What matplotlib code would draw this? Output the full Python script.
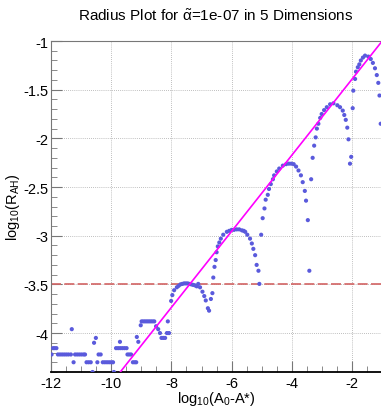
import matplotlib
matplotlib.use("Agg")
import matplotlib.pyplot as plt
from matplotlib.ticker import MultipleLocator

plt.rcParams["font.family"] = ["Liberation Sans", "DejaVu Sans"]
plt.rcParams["mathtext.fontset"] = "custom"
plt.rcParams["mathtext.rm"] = "Liberation Sans"
plt.rcParams["mathtext.it"] = "Liberation Sans"

# noisy plateau at small A0-A*
noise_x = [-11.98, -11.93, -11.88, -11.82, -11.77, -11.70, -11.63, -11.56, -11.49,
           -11.42, -11.34, -11.31, -11.25, -11.20, -11.13, -11.06, -10.99, -10.92,
           -10.87, -10.82, -10.75, -10.68, -10.62, -10.57, -10.51, -10.46, -10.42,
           -10.35, -10.28, -10.21, -10.14, -10.07, -10.00, -9.94, -9.91, -9.84,
           -9.77, -9.71, -9.70, -9.63, -9.56, -9.49, -9.46, -9.40, -9.34, -9.28,
           -9.22, -9.17, -9.15, -9.10, -9.02]
noise_y = [-4.22, -4.155, -4.155, -4.155, -4.22, -4.22, -4.22, -4.22, -4.22,
           -4.22, -4.22, -3.96, -4.30, -4.22, -4.22, -4.22, -4.22, -4.22,
           -4.22, -4.30, -4.30, -4.30, -4.40, -4.10, -4.05, -4.30, -4.22,
           -4.22, -4.30, -4.30, -4.30, -4.30, -4.30, -4.30, -4.40, -4.155,
           -4.155, -4.09, -4.155, -4.155, -4.155, -4.155, -4.22, -4.22, -4.22, -4.30,
           -4.30, -4.30, -4.04, -4.09, -3.92]

# small shelf and first arch
arch1_x = [-8.99, -8.93, -8.87, -8.81, -8.75, -8.69, -8.63, -8.57, -8.51, -8.44,
           -8.38, -8.33, -8.27, -8.21, -8.15, -8.12, -8.08, -8.01, -7.97, -7.91,
           -7.82, -7.76, -7.70, -7.64, -7.58, -7.52, -7.46, -7.40, -7.34, -7.28,
           -7.22, -7.16, -7.11, -7.05, -6.97, -6.91, -6.86, -6.79, -6.75]
arch1_y = [-3.88, -3.88, -3.88, -3.88, -3.88, -3.88, -3.88, -3.88, -3.93, -3.96,
           -4.00, -4.05, -4.05, -4.05, -4.00, -3.88, -4.00, -3.67, -3.61, -3.56,
           -3.53, -3.515, -3.50, -3.495, -3.49, -3.49, -3.49, -3.495, -3.50, -3.505,
           -3.51, -3.52, -3.495, -3.53, -3.575, -3.62, -3.665, -3.745, -3.77]

arch2_x = [-6.69, -6.64, -6.61, -6.57, -6.53, -6.50, -6.46, -6.41, -6.36, -6.28,
           -6.16, -6.08, -6.00, -5.92, -5.83, -5.75, -5.66, -5.60, -5.55, -5.48,
           -5.39, -5.33, -5.28, -5.22, -5.17, -5.11, -5.08]
arch2_y = [-3.65, -3.59, -3.43, -3.32, -3.25, -3.17, -3.11, -3.07, -3.03, -2.99,
           -2.96, -2.95, -2.94, -2.94, -2.935, -2.935, -2.945, -2.95, -2.96, -2.99,
           -3.03, -3.08, -3.135, -3.20, -3.30, -3.36, -3.495]

arch3_x = [-5.02, -4.97, -4.91, -4.87, -4.80, -4.76, -4.70, -4.63, -4.59, -4.50,
           -4.42, -4.30, -4.19, -4.10, -4.02, -3.94, -3.86, -3.78, -3.70, -3.64,
           -3.57, -3.53, -3.47, -3.42]
arch3_y = [-2.99, -2.82, -2.72, -2.63, -2.58, -2.52, -2.47, -2.42, -2.38, -2.34,
           -2.31, -2.28, -2.265, -2.26, -2.26, -2.265, -2.29, -2.33, -2.38, -2.45,
           -2.54, -2.64, -2.84, -3.36]

arch4_x = [-3.36, -3.31, -3.26, -3.21, -3.17, -3.12, -3.06, -3.01, -2.93, -2.84,
           -2.73, -2.62, -2.49, -2.40, -2.31, -2.26, -2.21, -2.16, -2.12, -2.07,
           -2.03]
arch4_y = [-2.42, -2.20, -2.075, -1.99, -1.90, -1.85, -1.79, -1.75, -1.71, -1.68,
           -1.65, -1.64, -1.66, -1.68, -1.715, -1.76, -1.81, -1.89, -2.01, -2.26,
           -2.19]

arch5_x = [-1.98, -1.96, -1.90, -1.87, -1.81, -1.76, -1.71, -1.64, -1.57, -1.46,
           -1.38, -1.31, -1.24, -1.18, -1.13, -1.09, -1.05]
arch5_y = [-1.69, -1.51, -1.39, -1.315, -1.27, -1.24, -1.20, -1.17, -1.15, -1.16,
           -1.185, -1.225, -1.28, -1.35, -1.43, -1.56, -1.85]

radius_x = noise_x + arch1_x + arch2_x + arch3_x + arch4_x + arch5_x
radius_y = noise_y + arch1_y + arch2_y + arch3_y + arch4_y + arch5_y

# power-law guide and threshold
fit_x = [-9.75, -1.0]
fit_y = [-4.42, -1.0]
threshold = -3.5

fig = plt.figure(figsize=(3.81, 4.10), dpi=100)
ax = fig.add_axes([51 / 381, 1 - 373 / 410, 330 / 381, 331 / 410])

ax.grid(True, color="#aaaaaa", ls=(0, (1, 1.5)), lw=0.6)
ax.set_axisbelow(True)

ax.axhline(threshold, color="#d26464", lw=1.2, ls=(0, (6, 2)), zorder=2)
ax.scatter(radius_x, radius_y, s=9, color="#5a5adc", edgecolors="none", zorder=3)
ax.plot(fit_x, fit_y, color="#ff00ff", lw=1.2, zorder=4)

ax.set_xlim(-12, -1.04)
ax.set_ylim(-4.40, -1.0)
ax.xaxis.set_major_locator(MultipleLocator(2))
ax.xaxis.set_minor_locator(MultipleLocator(0.5))
ax.yaxis.set_major_locator(MultipleLocator(0.5))
ax.yaxis.set_minor_locator(MultipleLocator(0.1))
ax.xaxis.set_major_formatter(plt.FuncFormatter(lambda v, p: f"{v:g}"))
ax.yaxis.set_major_formatter(plt.FuncFormatter(lambda v, p: f"{v:g}"))

ax.tick_params(which="both", direction="in", top=False, right=False, labelsize=10.5)
ax.tick_params(axis="x", which="major", length=8, color="#777777", pad=3)
ax.tick_params(axis="x", which="minor", length=4, color="#777777")
ax.tick_params(axis="y", which="major", length=8, color="#777777", pad=2)
ax.tick_params(axis="y", which="minor", length=4, color="#777777")

for side in ["top", "left"]:
    ax.spines[side].set_color("#777777")
ax.spines["bottom"].set_color("black")
ax.spines["bottom"].set_linewidth(1.3)
ax.spines["right"].set_visible(False)

ax.set_xlabel(r"log$_{10}$(A$_0$-A*)", fontsize=10.5, labelpad=-1)
ax.set_ylabel(r"log$_{10}$(R$_{AH}$)", fontsize=10.5, labelpad=1)
fig.text(216 / 381, 1 - 16 / 410, r"Radius Plot for $\tilde{\alpha}$=1e-07 in 5 Dimensions",
         ha="center", va="center", fontsize=11)

fig.savefig("out.png", dpi=100)
